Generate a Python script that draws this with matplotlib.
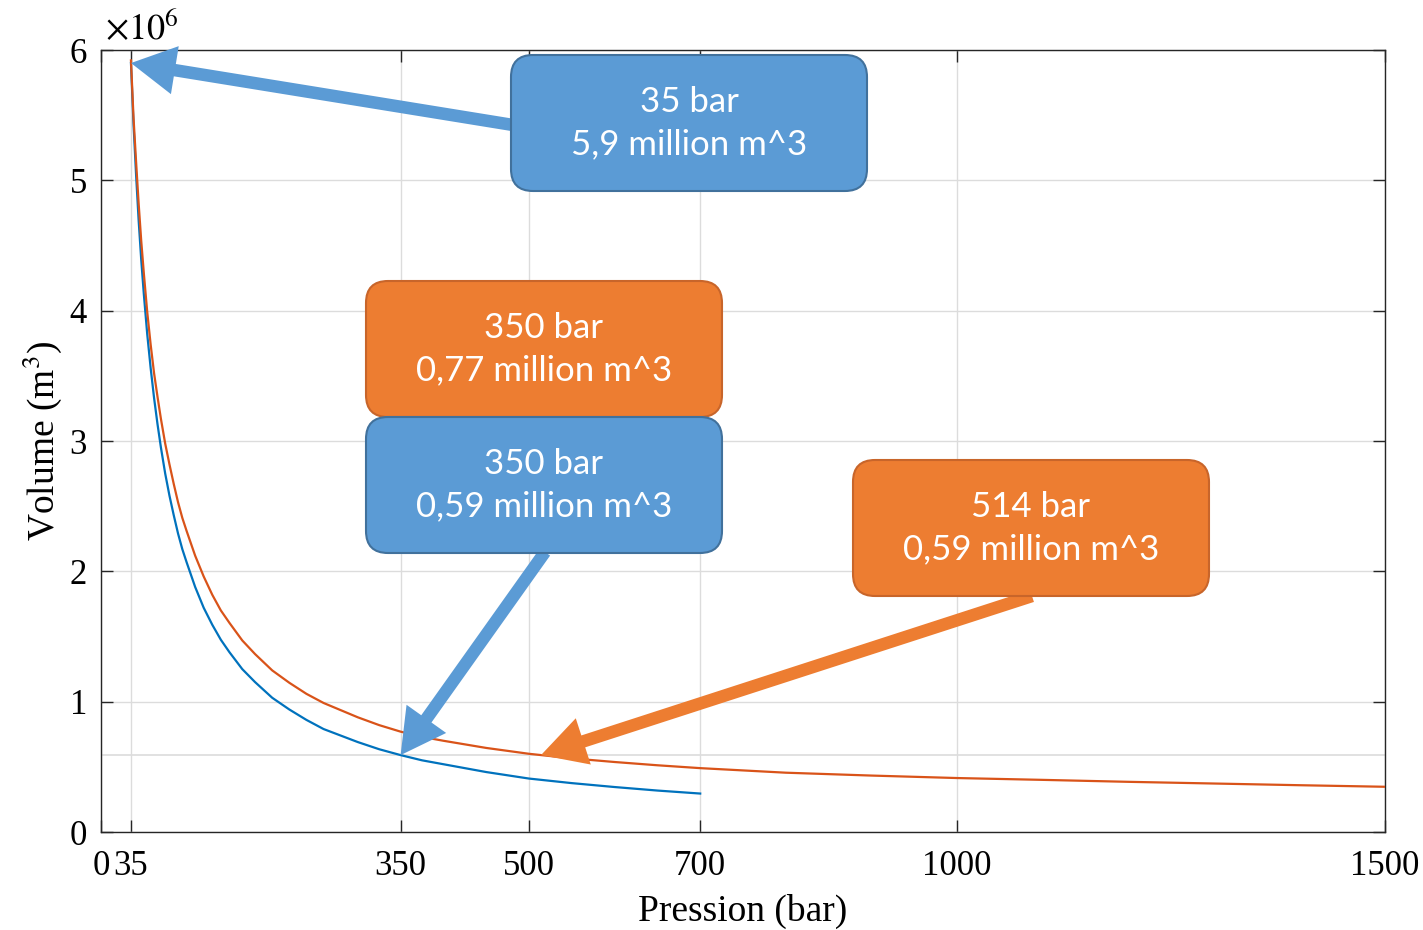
# -*- coding: utf-8 -*-
# --- plot.py : volume of stored gas vs. pressure -----------------------------
import matplotlib
matplotlib.use('Agg')
import matplotlib.pyplot as plt
from matplotlib.patches import FancyBboxPatch

# --- Data (volume in million m^3) --------------------------------------------
lPBlue = [35, 38, 41, 44, 47, 50, 54, 58, 62, 66, 70, 75, 80, 85, 90, 95, 100,
          110, 120, 130, 140, 150, 165, 180, 200, 220, 240, 260, 280, 300, 325,
          350, 375, 400, 450, 500, 550, 600, 650, 700]
lVBlue = [5.90, 5.43, 5.04, 4.69, 4.39, 4.13, 3.82, 3.56, 3.33, 3.13, 2.95,
          2.75, 2.58, 2.43, 2.29, 2.17, 2.07, 1.88, 1.72, 1.59, 1.475, 1.38,
          1.25, 1.15, 1.03, 0.94, 0.86, 0.79, 0.74, 0.69, 0.635, 0.59, 0.55,
          0.52, 0.46, 0.41, 0.375, 0.345, 0.318, 0.295]
lPOrng = [35, 38, 41, 44, 47, 50, 54, 58, 62, 66, 70, 75, 80, 85, 90, 95, 100,
          110, 120, 130, 140, 150, 165, 180, 200, 220, 240, 260, 280, 300, 325,
          350, 375, 400, 450, 500, 550, 600, 650, 700, 800, 900, 1000, 1100,
          1200, 1300, 1400, 1500]
lVOrng = [5.92, 5.48, 5.14, 4.82, 4.535, 4.29, 3.99, 3.74, 3.52, 3.34, 3.17,
          2.98, 2.82, 2.67, 2.53, 2.41, 2.31, 2.12, 1.96, 1.82, 1.70, 1.605,
          1.47, 1.365, 1.24, 1.145, 1.06, 0.99, 0.935, 0.88, 0.82, 0.77,
          0.73, 0.70, 0.645, 0.60, 0.565, 0.537, 0.512, 0.49, 0.455, 0.433,
          0.414, 0.400, 0.385, 0.372, 0.359, 0.347]
lXTck = [0, 35, 350, 500, 700, 1000, 1500]
lYTck = [0, 1, 2, 3, 4, 5, 6]
refVol = 0.59

# (text, colour key, box left/top in pixels, arrow start px, arrow tip data)
lBox = [('35 bar\n5,9 million m^3', 'B', (511, 55), (513, 125), (35, 5.9)),
        ('350 bar\n0,77 million m^3', 'O', (366, 281), None, None),
        ('350 bar\n0,59 million m^3', 'B', (366, 417), (545, 552), (350, 0.59)),
        ('514 bar\n0,59 million m^3', 'O', (853, 460), (1032, 596), (514, 0.59))]

# --- Styles ------------------------------------------------------------------
W_PX, H_PX, DPI = 1423, 930, 100
COL_LN = {'B': '#0072BD', 'O': '#D95319'}
COL_FC = {'B': '#5B9BD5', 'O': '#ED7D31'}
COL_EC = {'B': '#41719C', 'O': '#C8652A'}
COL_GRD = '#DCDCDC'
BOX_W, BOX_H = 356, 136

plt.rcParams['font.family'] = ['Liberation Serif', 'DejaVu Serif']
plt.rcParams['mathtext.fontset'] = 'stix'

cFig = plt.figure(figsize = (W_PX/DPI, H_PX/DPI), dpi = DPI)
cAx = cFig.add_axes([101/W_PX, 1 - 832/H_PX, 1284/W_PX, 782/H_PX])

cAx.plot(lPBlue, lVBlue, color = COL_LN['B'], lw = 1.6, zorder = 3,
         solid_joinstyle = 'round')
cAx.plot(lPOrng, lVOrng, color = COL_LN['O'], lw = 1.6, zorder = 3,
         solid_joinstyle = 'round')
cAx.axhline(refVol, color = COL_GRD, lw = 1.2, zorder = 1)

cAx.set_xlim(0, 1500)
cAx.set_ylim(0, 6)
cAx.set_xticks(lXTck)
cAx.set_xticklabels([str(x) for x in lXTck])
cAx.set_yticks(lYTck)
cAx.grid(True, color = COL_GRD, lw = 1.0, zorder = 0)
cAx.set_axisbelow(True)
cAx.tick_params(direction = 'in', top = True, right = True, length = 8.5,
                width = 1.0, labelsize = 25, color = '#262626', pad = 10)
cAx.tick_params(axis = 'x', pad = 13)
for sp in cAx.spines.values():
    sp.set_color('#262626')
    sp.set_linewidth(1.0)
cAx.set_xlabel('Pression (bar)', fontsize = 27, labelpad = 8)
cAx.set_ylabel('Volume (m$^3$)', fontsize = 27, labelpad = 4)
cAx.text(0.003, 1.004, r'$\times10^{6}$', transform = cAx.transAxes,
         fontsize = 26, ha = 'left', va = 'bottom')

# --- Annotation boxes + arrows -----------------------------------------------
def px2in(x, y):
    return x/DPI, (H_PX - y)/DPI

for sTxt, sK, (bx, by), pStrt, pTip in lBox:
    if pStrt is not None:
        cAx.annotate('', xy = pTip, xycoords = 'data',
                     xytext = px2in(*pStrt), textcoords = cFig.dpi_scale_trans,
                     arrowprops = dict(arrowstyle = 'simple,head_length=1.6,'
                                       'head_width=1.75,tail_width=0.45',
                                       color = COL_FC[sK], mutation_scale = 20,
                                       shrinkA = 0, shrinkB = 0, lw = 0),
                     zorder = 4, annotation_clip = False)

for sTxt, sK, (bx, by), pStrt, pTip in lBox:
    x0, y0 = px2in(bx, by + BOX_H)
    cBox = FancyBboxPatch((x0, y0), BOX_W/DPI, BOX_H/DPI,
                          boxstyle = 'round,pad=0,rounding_size=0.22',
                          fc = COL_FC[sK], ec = COL_EC[sK], lw = 1.5,
                          transform = cFig.dpi_scale_trans, zorder = 5)
    cFig.add_artist(cBox)
    cFig.text(x0 + BOX_W/DPI/2, y0 + BOX_H/DPI/2, sTxt,
              transform = cFig.dpi_scale_trans, ha = 'center', va = 'center',
              color = 'white', fontsize = 25, linespacing = 1.42,
              family = ['Lato', 'DejaVu Sans'], zorder = 6)

plt.savefig('out.png', dpi = DPI)
plt.close()
